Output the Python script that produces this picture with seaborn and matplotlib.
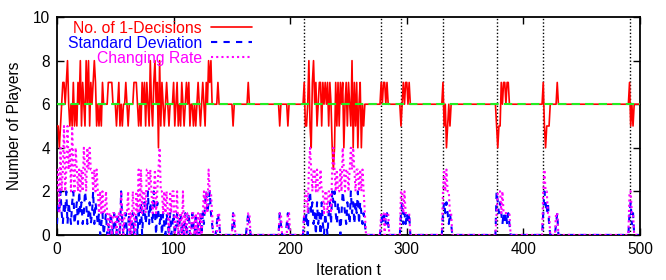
import numpy as np
import pandas as pd
import matplotlib
matplotlib.use("Agg")
import matplotlib.pyplot as plt
import seaborn as sns

# ---------------- data ----------------
n_iter = 500
iterations = list(range(n_iter))
optimum_level = 6
event_iters = [212, 278, 295, 331, 377, 417, 491]

# early (continuously adapting) phase, t = 0..209
decisions_early = [
    5, 5, 4, 5, 6, 7, 7, 6, 7, 8,
    6, 5, 6, 5, 7, 5, 6, 5, 7, 6,
    8, 5, 7, 6, 5, 8, 6, 8, 5, 7,
    6, 7, 8, 7, 5, 6, 5, 6, 5, 7,
    6, 6, 6, 6, 7, 7, 7, 7, 6, 6,
    6, 5, 6, 7, 5, 6, 5, 6, 6, 7,
    6, 5, 6, 6, 6, 6, 7, 7, 7, 6,
    5, 6, 5, 7, 6, 7, 5, 7, 6, 5,
    8, 6, 5, 7, 8, 6, 7, 4, 8, 5,
    7, 6, 5, 6, 7, 6, 5, 6, 6, 6,
    7, 5, 6, 7, 5, 6, 5, 7, 6, 5,
    6, 7, 6, 7, 5, 6, 6, 5, 6, 5,
    6, 7, 6, 5, 6, 7, 6, 5, 7, 6,
    8, 7, 8, 6, 6, 6, 6, 6, 7, 6,
    6, 6, 6, 6, 6, 6, 6, 6, 6, 6,
    6, 5, 6, 6, 6, 6, 6, 6, 6, 6,
    6, 6, 6, 6, 7, 6, 6, 6, 6, 6,
    6, 6, 6, 6, 6, 6, 6, 6, 6, 6,
    6, 6, 6, 6, 6, 6, 6, 6, 6, 6,
    6, 5, 6, 6, 6, 6, 6, 6, 5, 6,
    6, 6, 6, 6, 6, 6, 6, 6, 6, 6,
]
std_early = [
    0.5, 1.5, 1.0, 2.0, 1.0, 0.5, 1.5, 1.0, 2.0, 0.5,
    1.5, 1.0, 0.5, 1.5, 2.0, 0.5, 1.0, 1.5, 0.5, 2.0,
    1.0, 1.5, 0.5, 1.0, 2.0, 1.5, 0.5, 1.0, 1.5, 0.5,
    1.0, 2.0, 0.5, 1.5, 1.0, 0.5, 1.0, 0.0, 0.5, 1.0,
    0.0, 0.5, 1.0, 0.0, 0.5, 0.0, 1.0, 0.5, 0.0, 1.0,
    0.5, 0.0, 1.0, 0.5, 0.0, 2.0, 0.5, 0.0, 0.5, 1.0,
    0.0, 0.5, 1.0, 0.0, 0.5, 1.0, 0.0, 0.5, 1.0, 0.0,
    1.0, 0.5, 1.5, 0.0, 1.0, 1.5, 0.5, 1.0, 2.0, 0.5,
    1.5, 1.0, 0.5, 2.0, 1.0, 0.0, 1.5, 1.0, 0.5, 1.0,
    0.0, 1.0, 0.5, 0.0, 1.0, 0.5, 0.0, 1.0, 0.0, 0.5,
    1.0, 0.0, 0.5, 1.0, 0.0, 0.5, 1.0, 0.0, 0.5, 0.0,
    1.0, 0.0, 0.5, 1.0, 0.0, 0.0, 1.0, 0.5, 0.0, 1.0,
    0.0, 0.5, 0.0, 1.0, 0.0, 1.0, 0.5, 1.5, 2.0, 1.0,
    1.5, 2.0, 1.0, 0.5, 0.0, 0.0, 0.0, 0.5, 1.0, 0.5,
    0.0, 0.0, 0.0, 0.0, 0.0, 0.0, 0.0, 0.0, 0.0, 0.0,
    0.0, 1.0, 0.5, 0.0, 0.0, 0.0, 0.0, 0.0, 0.0, 0.0,
    0.0, 0.0, 0.0, 0.5, 1.0, 0.5, 0.0, 0.0, 0.0, 0.0,
    0.0, 0.0, 0.0, 0.0, 0.0, 0.0, 0.0, 0.0, 0.0, 0.0,
    0.0, 0.0, 0.0, 0.0, 0.0, 0.0, 0.0, 0.0, 0.0, 0.0,
    0.0, 1.0, 0.5, 0.0, 0.0, 0.0, 0.0, 0.5, 1.0, 0.0,
    0.0, 0.0, 0.0, 0.0, 0.0, 0.0, 0.0, 0.0, 0.0, 0.0,
]
rate_early = [
    2, 3, 1, 4, 2, 3, 5, 2, 3, 5,
    3, 4, 2, 5, 3, 2, 4, 3, 2, 3,
    2, 3, 2, 4, 3, 2, 4, 3, 4, 3,
    3, 2, 3, 2, 3, 2, 1, 2, 1, 2,
    1, 1, 2, 1, 0, 1, 1, 0, 1, 1,
    1, 0, 1, 1, 0, 2, 1, 0, 1, 1,
    1, 2, 0, 1, 0, 2, 1, 0, 2, 1,
    3, 1, 3, 1, 2, 2, 1, 3, 3, 2,
    3, 2, 1, 2, 3, 1, 2, 3, 4, 2,
    2, 1, 2, 1, 2, 1, 0, 2, 1, 2,
    2, 0, 1, 2, 0, 1, 1, 0, 2, 0,
    1, 0, 1, 1, 0, 0, 1, 1, 0, 1,
    0, 1, 0, 1, 0, 1, 2, 1, 2, 1,
    3, 2, 2, 1, 0, 0, 0, 0, 1, 1,
    0, 0, 0, 0, 0, 0, 0, 0, 0, 0,
    0, 1, 1, 0, 0, 0, 0, 0, 0, 0,
    0, 0, 0, 0, 1, 1, 0, 0, 0, 0,
    0, 0, 0, 0, 0, 0, 0, 0, 0, 0,
    0, 0, 0, 0, 0, 0, 0, 0, 0, 0,
    0, 1, 1, 0, 0, 0, 0, 0, 1, 1,
    0, 0, 0, 0, 0, 0, 0, 0, 0, 0,
]

# later bursts after perturbations (start iteration -> values)
burst_starts = [212, 278, 295, 331, 377, 417, 428, 491]
burst_decisions = [
    [7, 5, 5, 6, 8, 5, 4, 7, 8, 6, 7, 5, 6, 7, 7, 5, 7, 6, 7, 6,
     7, 5, 7, 6, 4, 3, 4, 7, 5, 7, 5, 7, 6, 7, 4, 6, 7, 5, 7, 6,
     5, 8, 4, 7, 5, 7, 4, 6, 7, 4, 6, 5, 6, 6],
    [7, 6, 7, 7, 6, 7, 6, 6],
    [5, 6, 7, 6, 7, 7, 6, 7, 6],
    [7, 5, 6, 4, 5, 6, 5, 6, 6],
    [5, 4, 5, 5, 7, 6, 7, 7, 6, 7, 7, 6, 6],
    [7, 5, 4, 5, 5, 5, 6],
    [6, 7, 6],
    [7, 5, 6, 5, 6],
]
burst_std = [
    [1.0, 0.5, 1.0, 0.0, 1.5, 2.0, 1.0, 1.5, 0.5, 1.0, 0.0, 1.5, 0.5, 1.0, 0.0, 1.5, 0.5, 0.0, 1.0, 0.5,
     0.0, 1.0, 1.5, 0.5, 2.0, 1.5, 2.0, 1.0, 0.5, 1.5, 1.0, 0.0, 1.0, 2.0, 1.5, 1.0, 0.5, 1.5, 1.0, 0.5,
     2.0, 1.0, 1.5, 0.5, 1.5, 1.0, 2.0, 0.5, 1.5, 1.0, 0.5, 1.0, 0.5, 0.0],
    [0.5, 1.0, 0.5, 1.0, 0.5, 1.0, 0.5, 0.0],
    [1.0, 1.5, 0.5, 1.0, 0.5, 1.0, 0.5, 1.0, 0.0],
    [1.0, 1.5, 1.0, 1.5, 1.0, 0.5, 1.0, 0.5, 0.0],
    [2.0, 1.5, 1.0, 1.5, 1.0, 0.5, 1.0, 0.5, 1.0, 0.5, 1.0, 0.5, 0.0],
    [1.0, 2.0, 1.5, 1.0, 1.5, 0.5, 0.0],
    [0.5, 1.0, 0.0],
    [1.0, 1.5, 0.5, 1.0, 0.0],
]
burst_rate = [
    [1, 2, 2, 1, 3, 4, 3, 2, 3, 3, 2, 3, 2, 2, 3, 2, 2, 1, 2, 2,
     1, 2, 2, 1, 3, 4, 3, 2, 3, 2, 2, 3, 2, 4, 3, 2, 3, 3, 2, 3,
     4, 3, 4, 3, 2, 3, 3, 2, 3, 2, 3, 2, 1, 0],
    [1, 1, 1, 0, 1, 1, 1, 0],
    [2, 2, 1, 2, 1, 1, 1, 1, 0],
    [2, 3, 2, 3, 2, 2, 1, 1, 0],
    [1, 2, 2, 2, 1, 2, 1, 1, 1, 1, 1, 1, 0],
    [2, 3, 2, 2, 1, 1, 0],
    [1, 1, 0],
    [2, 2, 1, 1, 0],
]

labels = ["No. of 1-Decisions", "Standard Deviation", "Changing Rate"]
colors = ["#ff0000", "#0000ff", "#ff00ff"]

# ---------------- assemble series ----------------
decisions = np.full(n_iter, float(optimum_level))
std_dev = np.zeros(n_iter)
change_rate = np.zeros(n_iter)
decisions[:len(decisions_early)] = decisions_early
std_dev[:len(std_early)] = std_early
change_rate[:len(rate_early)] = rate_early
for s, d, sd, r in zip(burst_starts, burst_decisions, burst_std, burst_rate):
    decisions[s:s + len(d)] = d
    std_dev[s:s + len(sd)] = sd
    change_rate[s:s + len(r)] = r

df = pd.DataFrame({"t": iterations, "dec": decisions, "std": std_dev, "rate": change_rate})

# ---------------- plot ----------------
sns.set_theme(style="white")
plt.rcParams["font.family"] = ["Liberation Sans", "DejaVu Sans"]
plt.rcParams["text.color"] = "black"
plt.rcParams["axes.labelcolor"] = "black"
plt.rcParams["xtick.color"] = "black"
plt.rcParams["ytick.color"] = "black"

fig, ax = plt.subplots(figsize=(6.66, 2.8), dpi=100)
fig.subplots_adjust(left=0.0856, right=0.961, top=0.939, bottom=0.161)

for e in event_iters:
    ax.axvline(e, color="black", lw=1.0, ls=(0, (1, 1.5)), zorder=1)

sns.lineplot(data=df, x="t", y="dec", ax=ax, color=colors[0], lw=1.2,
             label=labels[0], zorder=3)
sns.lineplot(data=df, x="t", y="std", ax=ax, color=colors[1], lw=1.5,
             ls=(0, (3, 3)), label=labels[1], zorder=4)
sns.lineplot(data=df, x="t", y="rate", ax=ax, color=colors[2], lw=1.5,
             ls=(0, (1, 1.5)), label=labels[2], zorder=5)
ax.axhline(optimum_level, color="#22ee22", lw=1.5, ls=(0, (4, 2.5)), zorder=6)

ax.set_xlim(0, 500)
ax.set_ylim(0, 10)
ax.set_xticks([0, 100, 200, 300, 400, 500])
ax.set_yticks([0, 2, 4, 6, 8, 10])
ax.set_xlabel("Iteration t", fontsize=11.2, labelpad=4.5)
ax.set_ylabel("Number of Players", fontsize=11.2, labelpad=8)
ax.tick_params(direction="in", length=5, width=1, top=True, right=True,
               bottom=True, left=True, labelsize=11.2, pad=5)
for sp in ax.spines.values():
    sp.set_color("black")
    sp.set_linewidth(1.3)

leg = ax.legend(loc="upper right", bbox_to_anchor=(0.340, 0.998), frameon=False,
                markerfirst=False, handlelength=2.6, handletextpad=0.6,
                labelspacing=0.0, borderaxespad=0, borderpad=0.2, fontsize=11.3)
for txt, c in zip(leg.get_texts(), colors):
    txt.set_color(c)
for col in leg._legend_handle_box.get_children():
    col.align = "right"

fig.savefig("out.png", dpi=100)
